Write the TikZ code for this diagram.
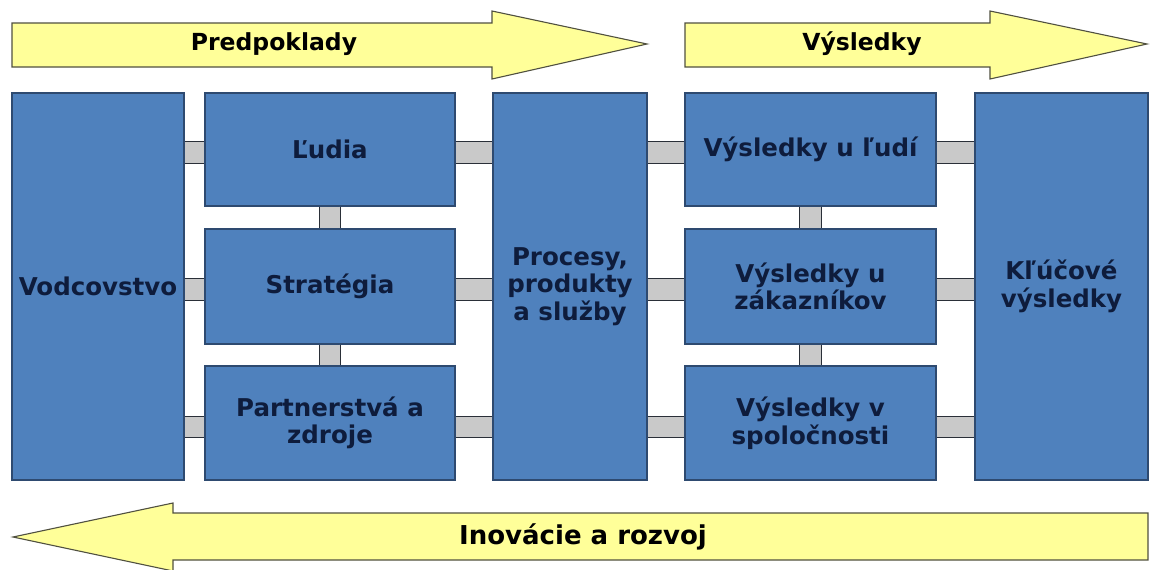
\documentclass[tikz,border=0pt]{standalone}
\usepackage{fontspec}
\setmainfont{DejaVu Sans}
\definecolor{boxblue}{HTML}{4F81BD}
\definecolor{boxline}{HTML}{2E4A70}
\definecolor{boxtext}{HTML}{0E1C3C}
\definecolor{arrowyellow}{HTML}{FFFF99}
\definecolor{arrowline}{HTML}{505040}
\definecolor{bargray}{HTML}{C9C9C9}
\definecolor{barline}{HTML}{2A2F38}
\begin{document}
\begin{tikzpicture}[x=1pt,y=-1pt,
  lbl/.style={font=\fontsize{23.5}{28}\selectfont\bfseries, align=center},
  blk/.style={font=\fontsize{24.5}{27.5}\selectfont\bfseries, align=center,
              draw=boxline, fill=boxblue, line width=1.2pt, text=boxtext, inner sep=0pt},
  bar/.style={draw=barline, line width=1.2pt, double=bargray, double distance=20.5pt, line cap=butt},
  yarrow/.style={draw=arrowline, fill=arrowyellow, line width=1.1pt, line join=miter}]
\useasboundingbox[fill=white] (0,0) rectangle (1152,570);

% arrows
\draw[yarrow] (12,23) -- (492,23) -- (492,11) -- (647,44) -- (492,79) -- (492,67) -- (12,67) -- cycle;
\node[lbl] (pre) at (274,44) {Predpoklady};
\draw[yarrow] (685,23) -- (990,23) -- (990,11) -- (1147,44) -- (990,79) -- (990,67) -- (685,67) -- cycle;
\node[lbl] (vys) at (862,44) {Výsledky};
\draw[yarrow] (1148,513) -- (173,513) -- (173,503) -- (13,537) -- (173,571) -- (173,560) -- (1148,560) -- cycle;
\node[lbl, font=\fontsize{26}{30}\selectfont\bfseries] (ino) at (583,537) {Inovácie a rozvoj};

% boxes
\node[blk, minimum width=172pt, minimum height=387pt] (vod) at (98,286.5) {Vodcovstvo};
\node[blk, minimum width=250pt, minimum height=113pt] (lud) at (330,149.5) {Ľudia};
\node[blk, minimum width=250pt, minimum height=115pt] (str) at (330,286.5) {Stratégia};
\node[blk, minimum width=250pt, minimum height=114pt] (par) at (330,423) {Partnerstvá a\\zdroje};
\node[blk, minimum width=154pt, minimum height=387pt] (pro) at (570,286.5) {Procesy,\\produkty\\a služby};
\node[blk, minimum width=251pt, minimum height=113pt] (vul) at (810.5,149.5) {Výsledky u ľudí};
\node[blk, minimum width=251pt, minimum height=115pt] (vuz) at (810.5,286.5) {Výsledky u\\zákazníkov};
\node[blk, minimum width=251pt, minimum height=114pt] (vus) at (810.5,423) {Výsledky v\\spoločnosti};
\node[blk, minimum width=173pt, minimum height=387pt] (klu) at (1061.5,286.5) {Kľúčové\\výsledky};

% connectors
\foreach \a/\b/\s in {vod/lud/3, lud/pro/3, pro/vul/3, vul/klu/3,
                      vod/str/3, str/pro/3, pro/vuz/3, vuz/klu/3,
                      vod/par/4, par/pro/4, pro/vus/4, vus/klu/4}{
  \ifnum\pdfstrcmp{\a}{vod}=0
    \draw[bar] ([yshift=-\s pt]\b.west -| \a.east) -- ([yshift=-\s pt]\b.west);
  \else\ifnum\pdfstrcmp{\a}{pro}=0
    \draw[bar] ([yshift=-\s pt]\b.west -| \a.east) -- ([yshift=-\s pt]\b.west);
  \else
    \draw[bar] ([yshift=-\s pt]\a.east) -- ([yshift=-\s pt]\a.east -| \b.west);
  \fi\fi
}
\draw[bar] (lud.south) -- (str.north);
\draw[bar] (str.south) -- (par.north);
\draw[bar] (vul.south) -- (vuz.north);
\draw[bar] (vuz.south) -- (vus.north);
\end{tikzpicture}
\end{document}
